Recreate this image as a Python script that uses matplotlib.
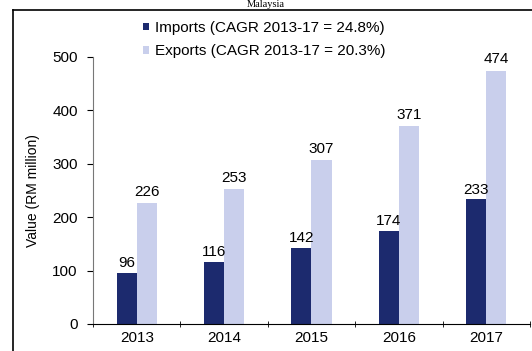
import matplotlib.pyplot as plt
import numpy as np
from matplotlib.lines import Line2D

years = ["2013", "2014", "2015", "2016", "2017"]
imports = [96, 116, 142, 174, 233]
exports = [226, 253, 307, 371, 474]
import_label = "Imports (CAGR 2013-17 = 24.8%)"
export_label = "Exports (CAGR 2013-17 = 20.3%)"

plt.rcParams['font.family'] = ['Liberation Sans', 'DejaVu Sans']

fig = plt.figure(figsize=(5.32, 3.51), dpi=100)
ax = fig.add_axes([0.175, 0.077, 0.821, 0.761])

x = np.arange(len(years))
w = 0.23
b1 = ax.bar(x - w / 2, imports, w, color="#1c2a6e", label=import_label)
b2 = ax.bar(x + w / 2, exports, w, color="#c9cfec", label=export_label)

# value labels on top of bars
for rect, v in zip(b1, imports):
    ax.text(rect.get_x() + rect.get_width() / 2, v + 5, str(v),
            ha="center", va="bottom", fontsize=11)
for rect, v in zip(b2, exports):
    ax.text(rect.get_x() + rect.get_width() / 2, v + 8, str(v),
            ha="center", va="bottom", fontsize=11, clip_on=False)

ax.set_xlim(-0.5, 4.5)
ax.set_ylim(0, 500)
ax.set_yticks([0, 100, 200, 300, 400, 500])
ax.set_xticks(x)
ax.set_xticklabels(years)
ax.set_xticks(np.arange(-0.5, 4.6, 1), minor=True)
ax.tick_params(axis="x", which="major", length=0, labelsize=11, pad=5)
ax.tick_params(axis="x", which="minor", length=4, direction="inout")
ax.tick_params(axis="y", length=4, labelsize=11, pad=7)
ax.set_ylabel("Value (RM million)", fontsize=10, labelpad=9)
for s in ["top", "right"]:
    ax.spines[s].set_visible(False)
ax.spines["left"].set_color("#777777")

ax.legend(loc="upper left", bbox_to_anchor=(0.255, 0.962),
          bbox_transform=fig.transFigure, frameon=False, fontsize=11,
          handlelength=0.4, handleheight=0.4, handletextpad=0.35,
          labelspacing=0.6, borderpad=0)

# outer frame and heading above it
fig.add_artist(Line2D([0.0244, 0.0244], [0, 0.9715], color="black", lw=1.2,
                      transform=fig.transFigure))
fig.add_artist(Line2D([0.0244, 1.0], [0.9715, 0.9715], color="black", lw=1.2,
                      transform=fig.transFigure))
fig.text(0.5, 0.999, "Malaysia", ha="center", va="top", fontsize=7.5,
         family="Liberation Serif")

fig.savefig("out.png", dpi=100)
